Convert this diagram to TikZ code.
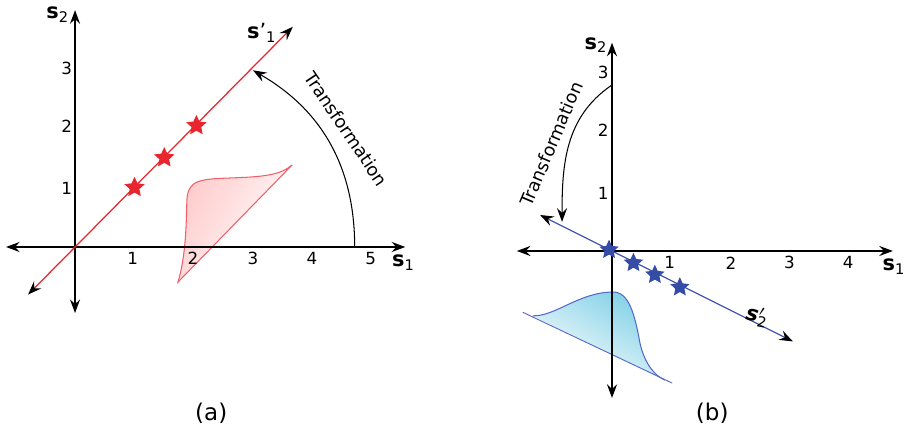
\documentclass[tikz,border=0pt]{standalone}
\usepackage{fontspec}
\setmainfont{DejaVu Sans}
\usetikzlibrary{arrows.meta,positioning,shapes.geometric}
\usepackage{xcolor}

\definecolor{lineRed}{RGB}{232,38,48}
\definecolor{curveRed}{RGB}{240,95,105}
\definecolor{lineBlue}{RGB}{66,86,180}
\definecolor{curveBlue}{RGB}{85,105,200}
\definecolor{starBlue}{RGB}{52,76,165}
\definecolor{fillCyan}{RGB}{128,208,230}

\begin{document}
\begin{tikzpicture}[
  ah/.tip={Stealth[length=2.3mm,width=1.7mm,inset=0.8mm,color=black]},
  axis/.style={line width=0.6pt, ah-ah},
  projline/.style={line width=0.6pt, ah-ah},
  turn/.style={line width=0.5pt, -ah},
  num/.style={font=\fontsize{8}{9}\selectfont, inner sep=1pt},
  axlabel/.style={font=\fontsize{10}{12}\selectfont, inner sep=1pt},
  turnlabel/.style={font=\fontsize{8.5}{10}\selectfont, inner sep=1pt},
  caption/.style={font=\fontsize{11}{13}\selectfont},
  redstar/.style={star, star points=5, star point ratio=2.1, fill=lineRed, minimum size=3.6mm, inner sep=0pt},
  bluestar/.style={star, star points=5, star point ratio=2.1, fill=starBlue, minimum size=3.4mm, inner sep=0pt}
]
\useasboundingbox (0,0) rectangle (15.21,7.26);

% (a)
\begin{scope}[shift={(1.261,3.109)}]
\coordinate (xla) at (-1.16,0);
\coordinate (xra) at (5.55,0);
\coordinate (yba) at (0,-1.11);
\coordinate (yta) at (0,3.98);
\coordinate (rlo) at (-0.79,-0.80);
\coordinate (rhi) at (3.66,3.70);
\coordinate (tsa) at (4.70,0);
\coordinate (tea) at (2.99,2.97);

\path[top color=red!20, bottom color=white, shading angle=60]
  (1.73,-0.59) .. controls (1.87,-0.13) and (1.87,0.45) .. (1.88,0.79)
  .. controls (1.90,1.13) and (2.10,1.14) .. (2.61,1.16)
  .. controls (3.19,1.18) and (3.45,1.21) .. (3.65,1.38) -- cycle;
\draw[draw=curveRed, line width=0.5pt]
  (1.73,-0.59) .. controls (1.87,-0.13) and (1.87,0.45) .. (1.88,0.79)
  .. controls (1.90,1.13) and (2.10,1.14) .. (2.61,1.16)
  .. controls (3.19,1.18) and (3.45,1.21) .. (3.65,1.38) -- cycle;

\draw[axis] (xla) -- (xra);
\draw[axis] (yba) -- (yta);
\draw[projline, draw=lineRed] (rlo) -- (rhi);
\draw[turn] (tsa) to[out=90, in=-30] (tea);

\node[redstar] (sta1) at (1,1) {};
\node[redstar] (sta2) at (1.5,1.5) {};
\node[redstar] (sta3) at (2.04,2.04) {};

\node[num] (xa1) at (0.97,-0.19) {1};
\node[num] (xa2) at (1.98,-0.19) {2};
\node[num] (xa3) at (2.99,-0.19) {3};
\node[num] (xa4) at (3.98,-0.19) {4};
\node[num] (xa5) at (4.97,-0.19) {5};
\node[num] (ya1) at (-0.14,0.99) {1};
\node[num] (ya2) at (-0.14,2.03) {2};
\node[num] (ya3) at (-0.14,3.00) {3};

\node[axlabel] (sa2) at (-0.29,3.90) {\textbf{s}\textsubscript{2}};
\node[axlabel] (sa1) at (5.52,-0.26) {\textbf{s}\textsubscript{1}};
\node[axlabel] (spa) at (3.14,3.60) {\textbf{s}'\textsubscript{1}};
\node[turnlabel, rotate=-56] (tra) at (4.56,1.98) {Transformation};
\end{scope}

% (b)
\begin{scope}[shift={(10.286,3.042)}]
\coordinate (xlb) at (-1.60,0);
\coordinate (xrb) at (4.72,0);
\coordinate (ybb) at (0,-2.47);
\coordinate (ytb) at (0,3.50);
\coordinate (blo) at (-1.21,0.605);
\coordinate (bhi) at (3.04,-1.52);
\coordinate (tsb) at (0,2.79);
\coordinate (teb) at (-0.84,0.49);
\coordinate (bsl) at (-1.50,-1.03);
\coordinate (bsr) at (1.01,-2.22);

\path[top color=fillCyan, bottom color=white, shading angle=-30]
  (-1.33,-1.09) .. controls (-0.95,-1.10) and (-0.55,-0.69) .. (0.02,-0.69)
  .. controls (0.28,-0.69) and (0.38,-1.05) .. (0.47,-1.55)
  .. controls (0.55,-1.90) and (0.72,-2.10) .. (0.89,-2.17) -- cycle;
\draw[draw=curveBlue, line width=0.5pt]
  (-1.33,-1.09) .. controls (-0.95,-1.10) and (-0.55,-0.69) .. (0.02,-0.69)
  .. controls (0.28,-0.69) and (0.38,-1.05) .. (0.47,-1.55)
  .. controls (0.55,-1.90) and (0.72,-2.10) .. (0.89,-2.17);
\draw[draw=curveBlue, line width=0.45pt] (bsl) -- (bsr);

\draw[axis] (xlb) -- (xrb);
\draw[axis] (ybb) -- (ytb);
\draw[projline, draw=lineBlue] (blo) -- (bhi);
\draw[turn] (tsb) to[out=214, in=90] (teb);

\node[bluestar] (stb1) at (-0.05,0.02) {};
\node[bluestar] (stb2) at (0.36,-0.20) {};
\node[bluestar] (stb3) at (0.72,-0.40) {};
\node[bluestar] (stb4) at (1.14,-0.61) {};

\node[num] (xb1) at (0.97,-0.20) {1};
\node[num] (xb2) at (2.00,-0.20) {2};
\node[num] (xb3) at (2.98,-0.20) {3};
\node[num] (xb4) at (3.97,-0.20) {4};
\node[num] (yb1) at (-0.15,0.97) {1};
\node[num] (yb2) at (-0.15,2.03) {2};
\node[num] (yb3) at (-0.15,3.00) {3};

\node[axlabel] (sb2) at (-0.27,3.46) {\textbf{s}\textsubscript{2}};
\node[axlabel] (sb1) at (4.74,-0.26) {\textbf{s}\textsubscript{1}};
\node[axlabel, rotate=-12] (spb) at (2.44,-1.10) {\textbf{\textit{s}}\rlap{$'$}\textsubscript{2}};
\node[turnlabel, rotate=67] (trb) at (-1.02,1.80) {Transformation};
\end{scope}

\node[caption] (capa) at (3.55,0.32) {(a)};
\node[caption] (capb) at (11.97,0.32) {(b)};
\end{tikzpicture}
\end{document}
